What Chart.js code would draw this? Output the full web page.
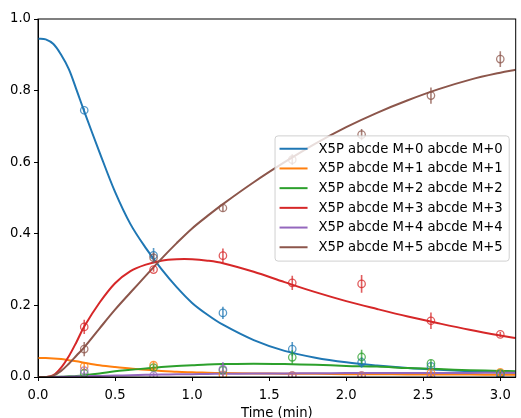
<!DOCTYPE html>
<html>
<head>
<meta charset="utf-8">
<script src="https://cdn.jsdelivr.net/npm/chart.js@4"></script>
<style>
  html, body { margin: 0; padding: 0; background: #fff; }
  #wrap { width: 521px; height: 418px; }
</style>
</head>
<body>
<div id="wrap"><canvas id="chart1" width="521" height="418"></canvas></div>
<script>
// legend names + colours
const seriesNames = [
  'X5P abcde M+0 abcde M+0',
  'X5P abcde M+1 abcde M+1',
  'X5P abcde M+2 abcde M+2',
  'X5P abcde M+3 abcde M+3',
  'X5P abcde M+4 abcde M+4',
  'X5P abcde M+5 abcde M+5'
];
const colors = ['#1f77b4', '#ff7f0e', '#2ca02c', '#d62728', '#9467bd', '#8c564b'];

// measured time points (min)
const sampleTimes = [0.3, 0.75, 1.2, 1.65, 2.1, 2.55, 3.0];
const measM0 = [0.745, 0.340, 0.179, 0.078, 0.041, 0.030, 0.008];
const measM1 = [0.030, 0.033, 0.006, 0.004, 0.004, 0.012, 0.013];
const measM2 = [0.010, 0.026, 0.019, 0.055, 0.056, 0.038, 0.010];
const measM3 = [0.140, 0.300, 0.339, 0.263, 0.260, 0.157, 0.119];
const measM4 = [0.018, 0.004, 0.022, 0.004, 0.004, 0.004, 0.004];
const measM5 = [0.078, 0.333, 0.472, 0.607, 0.677, 0.786, 0.888];

const errM0 = [0.006, 0.020, 0.017, 0.020, 0.015, 0.010, 0.006];
const errM1 = [0.010, 0.010, 0.008, 0.005, 0.005, 0.008, 0.008];
const errM2 = [0.005, 0.008, 0.010, 0.020, 0.020, 0.010, 0.005];
const errM3 = [0.020, 0.006, 0.020, 0.020, 0.025, 0.023, 0.007];
const errM4 = [0.008, 0.008, 0.020, 0.006, 0.006, 0.006, 0.006];
const errM5 = [0.020, 0.015, 0.010, 0.015, 0.016, 0.023, 0.022];

// fitted curves
const fitTimes = [0, 0.05, 0.1, 0.15, 0.2, 0.25, 0.3, 0.4, 0.5, 0.6, 0.7, 0.8, 0.9, 1.0, 1.1, 1.2, 1.4, 1.6, 1.8, 2.0, 2.2, 2.4, 2.6, 2.8, 3.0, 3.1];
const fitM0 = [0.945, 0.943, 0.930, 0.900, 0.860, 0.802, 0.742, 0.627, 0.517, 0.427, 0.360, 0.302, 0.251, 0.207, 0.174, 0.146, 0.103, 0.073, 0.054, 0.041, 0.032, 0.025, 0.020, 0.016, 0.013, 0.012];
const fitM1 = [0.053, 0.053, 0.052, 0.050, 0.047, 0.044, 0.040, 0.033, 0.028, 0.024, 0.020, 0.017, 0.015, 0.013, 0.012, 0.011, 0.010, 0.009, 0.009, 0.008, 0.008, 0.007, 0.007, 0.007, 0.006, 0.006];
const fitM2 = [0, 0, 0.0005, 0.001, 0.002, 0.003, 0.005, 0.010, 0.016, 0.020, 0.024, 0.028, 0.031, 0.033, 0.035, 0.036, 0.037, 0.036, 0.034, 0.031, 0.029, 0.025, 0.022, 0.019, 0.017, 0.016];
const fitM3 = [0, 0, 0.005, 0.026, 0.058, 0.098, 0.141, 0.208, 0.262, 0.296, 0.314, 0.325, 0.329, 0.329, 0.325, 0.318, 0.294, 0.265, 0.237, 0.212, 0.190, 0.169, 0.150, 0.132, 0.116, 0.109];
const fitM4 = [0, 0, 0, 0.0005, 0.001, 0.0015, 0.002, 0.003, 0.004, 0.005, 0.006, 0.007, 0.0075, 0.008, 0.0085, 0.009, 0.0095, 0.010, 0.0105, 0.011, 0.011, 0.011, 0.0115, 0.0115, 0.012, 0.012];
const fitM5 = [0, 0, 0.004, 0.017, 0.037, 0.060, 0.083, 0.136, 0.188, 0.236, 0.283, 0.330, 0.374, 0.415, 0.450, 0.483, 0.544, 0.600, 0.652, 0.698, 0.738, 0.773, 0.804, 0.830, 0.850, 0.858];

const xTickValues = [0, 0.5, 1.0, 1.5, 2.0, 2.5, 3.0];
const yTickValues = [0, 0.2, 0.4, 0.6, 0.8, 1.0];

const measured = [measM0, measM1, measM2, measM3, measM4, measM5];
const errors = [errM0, errM1, errM2, errM3, errM4, errM5];
const fits = [fitM0, fitM1, fitM2, fitM3, fitM4, fitM5];

const FONT_SIZE = 13.2;

function alpha(hex, a){
  const n = parseInt(hex.slice(1), 16);
  return `rgba(${n>>16},${(n>>8)&255},${n&255},${a})`;
}

const datasets = [];
fits.forEach((f, i) => {
  datasets.push({
    label: seriesNames[i],
    data: fitTimes.map((t, j) => ({x: t, y: f[j]})),
    showLine: true,
    borderColor: colors[i],
    borderWidth: 2,
    pointRadius: 0,
    tension: 0.35,
    fill: false,
    order: 20 - i
  });
});
measured.forEach((m, i) => {
  datasets.push({
    label: seriesNames[i] + ' data',
    data: sampleTimes.map((t, j) => ({x: t, y: m[j]})),
    showLine: false,
    pointStyle: 'circle',
    pointRadius: 3.7,
    pointBorderWidth: 1.3,
    pointBackgroundColor: 'rgba(0,0,0,0)',
    pointBorderColor: alpha(colors[i], 0.75),
    errors: errors[i],
    errColor: alpha(colors[i], 0.75),
    order: 12 - i
  });
});

// vertical error bars through the library's scales
const errorBars = {
  id: 'errorBars',
  afterDatasetsDraw(chart){
    const {ctx, chartArea, scales: {x, y}} = chart;
    ctx.save();
    ctx.beginPath();
    ctx.rect(chartArea.left, chartArea.top, chartArea.width, chartArea.height);
    ctx.clip();
    chart.data.datasets.forEach(ds => {
      if(!ds.errors) return;
      ctx.strokeStyle = ds.errColor;
      ctx.lineWidth = 1.6;
      ds.data.forEach((p, j) => {
        const px = x.getPixelForValue(p.x);
        ctx.beginPath();
        ctx.moveTo(px, y.getPixelForValue(p.y - ds.errors[j]));
        ctx.lineTo(px, y.getPixelForValue(p.y + ds.errors[j]));
        ctx.stroke();
      });
    });
    ctx.restore();
    // top / right spines
    ctx.save();
    ctx.strokeStyle = '#000';
    ctx.lineWidth = 1;
    ctx.strokeRect(chartArea.left, chartArea.top, chartArea.width, chartArea.height);
    ctx.restore();
  }
};

// matplotlib-style legend in the centre right of the axes
const legendBox = {
  id: 'legendBox',
  afterDraw(chart){
    const {ctx, chartArea} = chart;
    ctx.save();
    ctx.font = FONT_SIZE + 'px "DejaVu Sans"';
    const textW = Math.max(...seriesNames.map(n => ctx.measureText(n).width));
    const rowH = 19.7;
    const w = 5 + 28 + 11 + textW + 6;
    const h = seriesNames.length * rowH + 7;
    const bx = chartArea.right - 7 - w;
    const by = (chartArea.top + chartArea.bottom) / 2 - h / 2;
    ctx.beginPath();
    ctx.roundRect(bx + 0.5, by + 0.5, w, h, 3);
    ctx.fillStyle = 'rgba(255,255,255,0.8)';
    ctx.fill();
    ctx.strokeStyle = '#d0d0d0';
    ctx.lineWidth = 1;
    ctx.stroke();
    ctx.textBaseline = 'middle';
    ctx.fillStyle = '#000';
    seriesNames.forEach((n, i) => {
      const cy = by + 3.5 + rowH * (i + 0.5);
      ctx.strokeStyle = colors[i];
      ctx.lineWidth = 2;
      ctx.beginPath();
      ctx.moveTo(bx + 5, cy);
      ctx.lineTo(bx + 33, cy);
      ctx.stroke();
      ctx.fillText(n, bx + 44, cy + 0.5);
    });
    ctx.restore();
  }
};

Chart.defaults.font.family = '"DejaVu Sans", sans-serif';
Chart.defaults.font.size = FONT_SIZE;
Chart.defaults.color = '#000';

const chart = new Chart(document.getElementById('chart1').getContext('2d'), {
  type: 'scatter',
  data: { datasets },
  options: {
    responsive: false,
    animation: false,
    layout: { padding: { top: 19, right: 1, left: 0, bottom: 0 } },
    plugins: { legend: { display: false }, tooltip: { enabled: false } },
    scales: {
      x: {
        type: 'linear',
        min: 0, max: 3.1,
        afterBuildTicks: s => { s.ticks = xTickValues.map(v => ({value: v})); },
        afterFit: s => { s.height = 41; },
        ticks: { callback: v => v.toFixed(1), padding: 7, maxRotation: 0, autoSkip: false },
        grid: { drawOnChartArea: false, tickLength: 4, color: '#000' },
        border: { color: '#000' },
        title: { display: true, text: 'Time (min)', padding: { top: 0, bottom: -3 } }
      },
      y: {
        type: 'linear',
        min: 0, max: 1,
        afterBuildTicks: s => { s.ticks = yTickValues.map(v => ({value: v})); },
        afterFit: s => { s.width = 38; },
        ticks: { callback: v => v.toFixed(1), padding: 3, autoSkip: false },
        grid: { drawOnChartArea: false, tickLength: 4, color: '#000' },
        border: { color: '#000' }
      }
    }
  },
  plugins: [errorBars, legendBox]
});
</script>
</body>
</html>
